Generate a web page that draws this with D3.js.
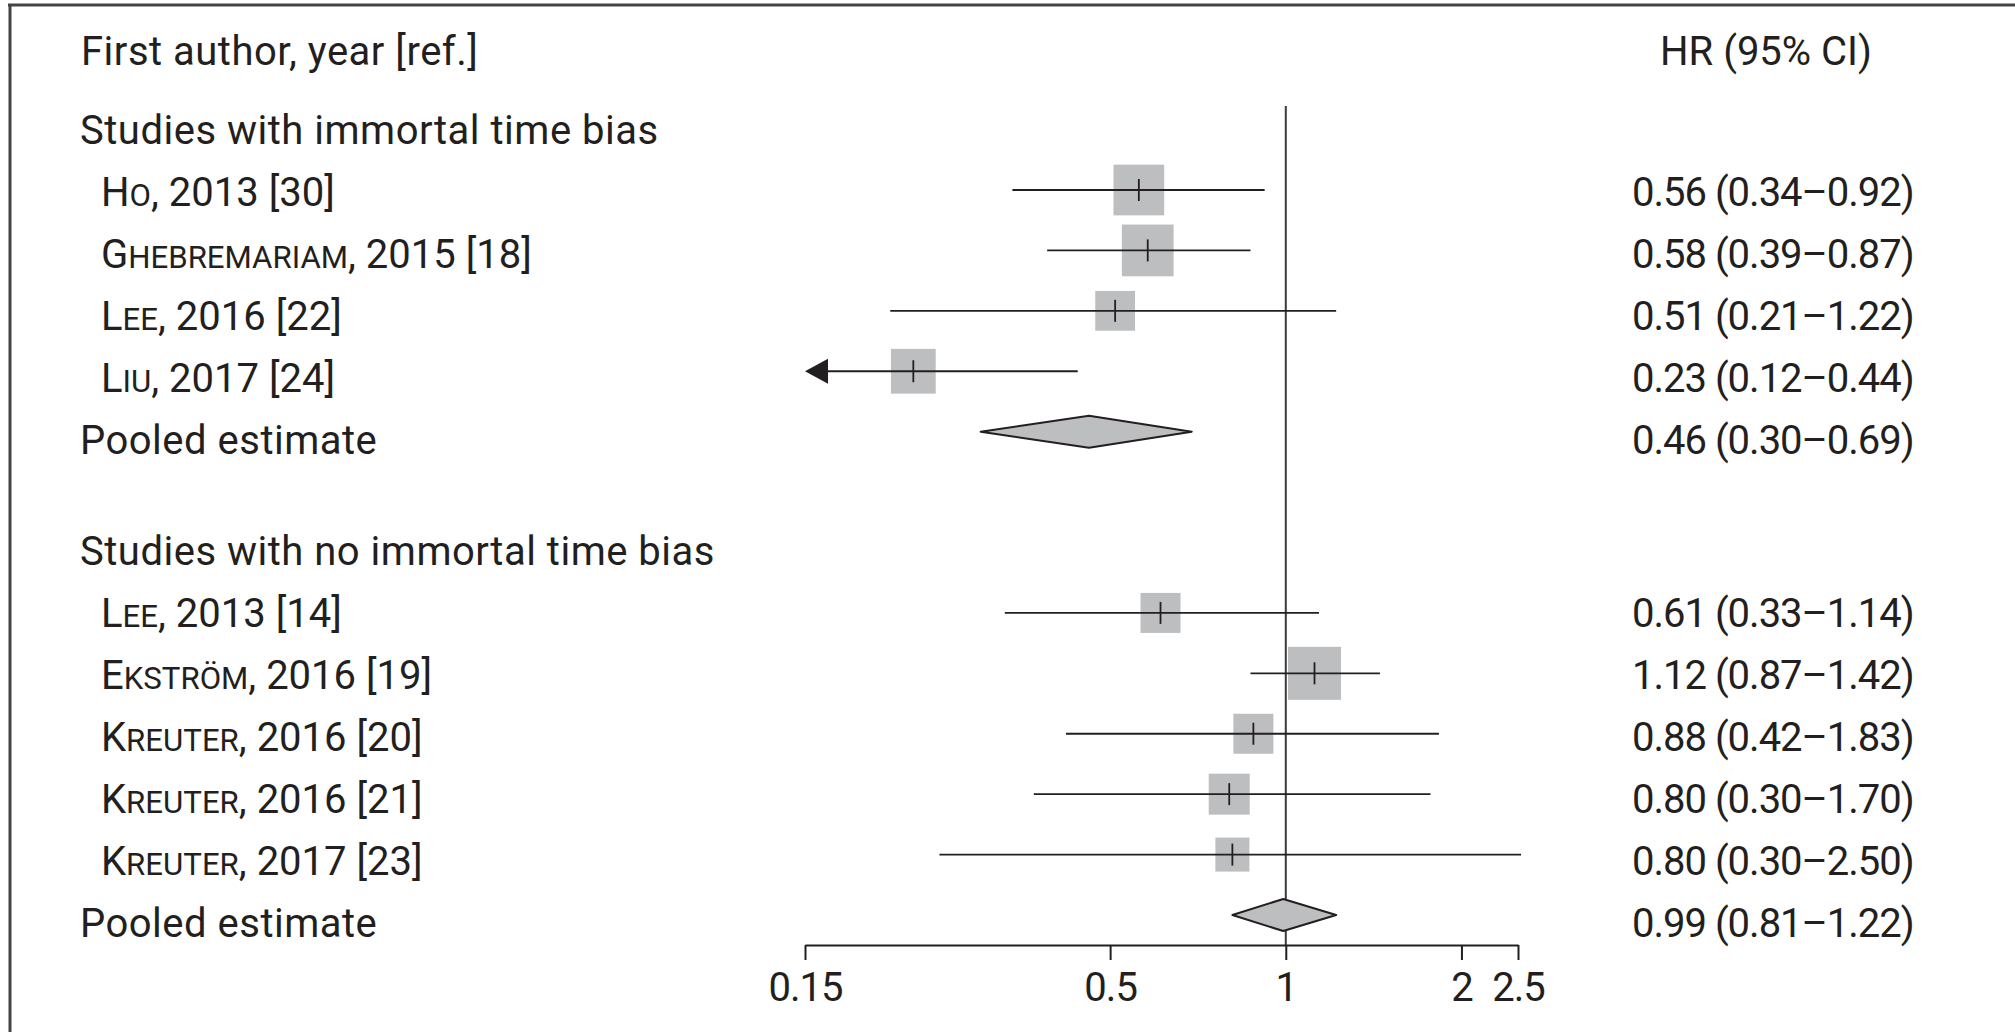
<!DOCTYPE html>
<html>
<head>
<meta charset="utf-8">
<script src="https://cdn.jsdelivr.net/npm/d3@7"></script>
<style>
  body { margin: 0; background: #fff; }
  svg text { font-family: Roboto, "Liberation Sans", sans-serif; fill: #231f20; }
</style>
</head>
<body>
<svg id="forest" width="2015" height="1032"></svg>
<script>
"use strict";

// study rows
const studyNames = ["Ho", "Ghebremariam", "Lee", "Liu", "Lee", "Ekström", "Kreuter", "Kreuter", "Kreuter"];
const studyRefs = [", 2013 [30]", ", 2015 [18]", ", 2016 [22]", ", 2017 [24]",
                   ", 2013 [14]", ", 2016 [19]", ", 2016 [20]", ", 2016 [21]", ", 2017 [23]"];
const studyGroup = [0, 0, 0, 0, 1, 1, 1, 1, 1];
const studyHr = [0.56, 0.58, 0.51, 0.23, 0.61, 1.12, 0.88, 0.80, 0.81];
const studyLo = [0.34, 0.39, 0.21, 0.12, 0.33, 0.87, 0.42, 0.37, 0.255];
const studyHi = [0.92, 0.87, 1.22, 0.44, 1.14, 1.45, 1.83, 1.77, 2.53];
const studyWeight = [29.1, 30.3, 17.9, 22.7, 18.1, 31.8, 18.1, 19.0, 13.1];
const studyText = ["0.56 (0.34–0.92)", "0.58 (0.39–0.87)", "0.51 (0.21–1.22)", "0.23 (0.12–0.44)",
                   "0.61 (0.33–1.14)", "1.12 (0.87–1.42)", "0.88 (0.42–1.83)", "0.80 (0.30–1.70)",
                   "0.80 (0.30–2.50)"];

// groups and pooled estimates
const groupTitles = ["Studies with immortal time bias", "Studies with no immortal time bias"];
const pooledHr = [0.46, 0.99];
const pooledLo = [0.30, 0.81];
const pooledHi = [0.69, 1.22];
const pooledText = ["0.46 (0.30–0.69)", "0.99 (0.81–1.22)"];

const tickValues = [0.15, 0.5, 1, 2, 2.5];
const xDomain = [0.15, 2.5];

const svg = d3.select("svg#forest");
const fontSize = 40;
const axisY = 945;

const x = d3.scaleLog().domain(xDomain).range([805, 1518]);
// marks and text sit on slightly different row grids in the original
const y = d3.scaleLinear().domain([0, 12]).range([190, 915]);
const groupTextTop = [130, 551];
const textStep = 62;
const boxSize = d3.scaleSqrt().domain([0, 100]).range([0, 94]);

// build rows: group title, studies, pooled line
let rows = [];
let offset = 0;
groupTitles.forEach(function(title, g) {
    rows.push({type: "title", row: offset - 1, ty: groupTextTop[g], label: title});
    let idx = d3.range(studyNames.length).filter(i => studyGroup[i] === g);
    idx.forEach(function(i, k) {
        rows.push({type: "study", row: offset + k, ty: groupTextTop[g] + (k + 1) * textStep,
                   name: studyNames[i], ref: studyRefs[i],
                   hr: studyHr[i], lo: studyLo[i], hi: studyHi[i], w: studyWeight[i], text: studyText[i]});
    });
    rows.push({type: "pooled", row: offset + idx.length, ty: groupTextTop[g] + (idx.length + 1) * textStep,
               label: "Pooled estimate", hr: pooledHr[g], lo: pooledLo[g], hi: pooledHi[g], text: pooledText[g]});
    offset += idx.length + 3;
});

// frame (top and left edges only)
svg.append("line").attr("x1", 8).attr("x2", 2015).attr("y1", 5).attr("y2", 5)
    .attr("stroke", "#444").attr("stroke-width", 3);
svg.append("line").attr("x1", 10).attr("x2", 10).attr("y1", 4).attr("y2", 1032)
    .attr("stroke", "#444").attr("stroke-width", 3);

// headers
svg.append("text").attr("x", 81).attr("y", 51).attr("dy", "0.35em")
    .attr("font-size", fontSize).attr("letter-spacing", 0.5).text("First author, year [ref.]");
svg.append("text").attr("x", 1766).attr("y", 51).attr("dy", "0.35em")
    .attr("text-anchor", "middle").attr("font-size", fontSize).text("HR (95% CI)");

// null line
svg.append("line").attr("x1", x(1)).attr("x2", x(1)).attr("y1", 106).attr("y2", axisY)
    .attr("stroke", "#3a3a3a").attr("stroke-width", 2);

// left labels
const labels = svg.append("g").selectAll("text")
    .data(rows).join("text")
    .attr("x", r => r.type === "study" ? 101 : 80)
    .attr("y", r => r.ty)
    .attr("dy", "0.35em")
    .attr("letter-spacing", r => r.type === "study" ? 0 : 0.5)
    .attr("font-size", fontSize);
labels.filter(r => r.type !== "study").text(r => r.label);
labels.filter(r => r.type === "study").each(function(r) {
    let t = d3.select(this);
    t.append("tspan").text(r.name[0]);
    t.append("tspan").attr("font-size", fontSize * 0.78).text(r.name.slice(1).toUpperCase());
    t.append("tspan").text(r.ref);
});

// right column values
svg.append("g").selectAll("text")
    .data(rows.filter(r => r.type !== "title")).join("text")
    .attr("x", 1632)
    .attr("y", r => r.ty)
    .attr("dy", "0.35em")
    .attr("letter-spacing", -1)
    .attr("font-size", fontSize)
    .text(r => r.text);

const studies = rows.filter(r => r.type === "study");
const marks = svg.append("g");

// boxes
marks.selectAll("rect")
    .data(studies).join("rect")
    .attr("x", r => x(r.hr) - boxSize(r.w) / 2)
    .attr("y", r => y(r.row) - boxSize(r.w) / 2)
    .attr("width", r => boxSize(r.w))
    .attr("height", r => boxSize(r.w))
    .attr("fill", "#bcbec0");

// confidence intervals (clipped at axis minimum with an arrow)
marks.selectAll("line.ci")
    .data(studies).join("line")
    .attr("class", "ci")
    .attr("x1", r => r.lo < xDomain[0] ? x(xDomain[0]) + 20 : x(r.lo))
    .attr("x2", r => x(Math.min(r.hi, xDomain[1] * 1.02)))
    .attr("y1", r => y(r.row)).attr("y2", r => y(r.row))
    .attr("stroke", "#231f20").attr("stroke-width", 1.8);

marks.selectAll("path.arrow")
    .data(studies.filter(r => r.lo < xDomain[0])).join("path")
    .attr("class", "arrow")
    .attr("d", function(r) {
        let x0 = x(xDomain[0]), yc = y(r.row);
        return d3.line()([[x0, yc], [x0 + 23, yc - 12.5], [x0 + 23, yc + 12.5]]) + "Z";
    })
    .attr("fill", "#231f20");

// point estimate ticks
marks.selectAll("line.est")
    .data(studies).join("line")
    .attr("class", "est")
    .attr("x1", r => x(r.hr)).attr("x2", r => x(r.hr))
    .attr("y1", r => y(r.row) - 11).attr("y2", r => y(r.row) + 11)
    .attr("stroke", "#231f20").attr("stroke-width", 1.8);

// pooled diamonds
marks.selectAll("path.diamond")
    .data(rows.filter(r => r.type === "pooled")).join("path")
    .attr("class", "diamond")
    .attr("d", function(r) {
        let yc = y(r.row);
        return d3.line()([[x(r.lo), yc], [x(r.hr), yc - 16], [x(r.hi), yc], [x(r.hr), yc + 16]]) + "Z";
    })
    .attr("fill", "#bcbec0")
    .attr("stroke", "#231f20").attr("stroke-width", 2)
    .attr("stroke-linejoin", "round");

// x axis
const axis = svg.append("g")
    .attr("transform", "translate(0," + axisY + ")")
    .call(d3.axisBottom(x).tickValues(tickValues).tickFormat(d => String(d))
        .tickSize(15).tickSizeOuter(0).tickPadding(13));
axis.select(".domain").attr("stroke", "#231f20").attr("stroke-width", 2);
axis.selectAll(".tick line").attr("stroke", "#231f20").attr("stroke-width", 2);
axis.selectAll(".tick text").attr("font-size", fontSize).attr("letter-spacing", -1)
    .attr("font-family", "Roboto, 'Liberation Sans', sans-serif").attr("fill", "#231f20");
</script>
</body>
</html>
